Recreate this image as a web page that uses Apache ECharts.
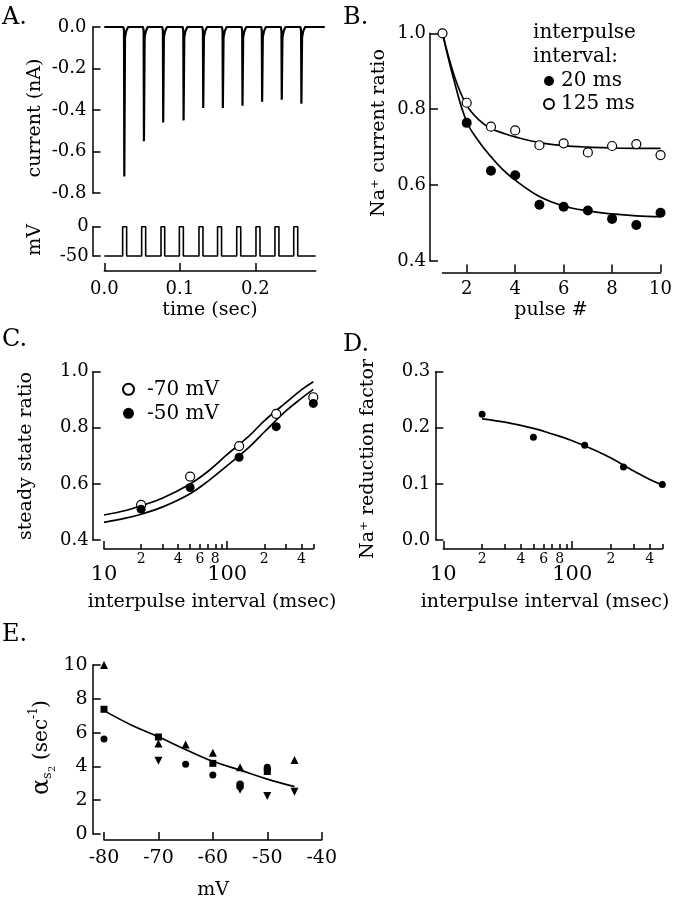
<!DOCTYPE html>
<html><head><meta charset="utf-8">
<script src="https://cdn.jsdelivr.net/npm/echarts@6/dist/echarts.min.js"></script>
<style>html,body{margin:0;padding:0;background:#fff}#c{width:675px;height:900px}</style>
</head><body><div id="c"></div>
<script>
// ---------------- data ----------------
// Panel A: current trace spikes (sec, nA) and voltage pulses (sec)
const aSpikeTimes = [0.0265,0.0525,0.0780,0.1050,0.1310,0.1570,0.1830,0.2090,0.2350,0.2610];
const aSpikePeaks = [-0.72,-0.55,-0.46,-0.45,-0.39,-0.39,-0.38,-0.36,-0.35,-0.37];
const aPulseOn  = [0.0243,0.0495,0.0751,0.0994,0.1254,0.1500,0.1754,0.2009,0.2260,0.2509];
const aPulseOff = [0.0296,0.0548,0.0800,0.1047,0.1307,0.1553,0.1807,0.2062,0.2313,0.2562];
const aHoldMV = -50, aStepMV = 0;
const aTimeEnd = 0.28, aCurrentEnd = 0.292;
const aTimeTicks = [0, 0.1, 0.2];

// Panel B
const bPulse = [1,2,3,4,5,6,7,8,9,10];
const b125 = [1.000,0.817,0.754,0.744,0.705,0.710,0.686,0.703,0.708,0.679];
const b20  = [null,0.764,0.638,0.626,0.548,0.543,0.533,0.511,0.495,0.527];
const bFitX   = [1,1.5,2,2.5,3,3.5,4,5,6,7,8,9,10];
const bFit125 = [1.000,0.885,0.810,0.772,0.749,0.737,0.727,0.712,0.704,0.700,0.698,0.697,0.697];
const bFit20  = [1.000,0.870,0.767,0.715,0.675,0.640,0.613,0.570,0.545,0.532,0.524,0.519,0.517];
const bXTicks = [2,4,6,8,10];

// Panel C
const cInterval = [20,50,125,250,500];
const c70 = [0.525,0.626,0.735,0.850,0.909];
const c50 = [0.510,0.587,0.695,0.804,0.887];
const cFitX  = [10,15,20,30,50,70,100,150,200,300,400,500];
const cFit70 = [0.489,0.505,0.522,0.550,0.600,0.645,0.705,0.770,0.825,0.890,0.935,0.964];
const cFit50 = [0.463,0.478,0.492,0.518,0.565,0.610,0.665,0.730,0.785,0.860,0.905,0.937];

// Panel D
const dInterval = [20,50,125,250,500];
const dFactor = [0.224,0.183,0.169,0.130,0.099];
const dFitX = [20,30,50,70,100,150,200,300,400,500];
const dFit  = [0.216,0.210,0.199,0.189,0.177,0.160,0.146,0.123,0.108,0.098];

// log-axis tick labels (C, D)
const logMajorTicks = [10,100];
const logMajorLabels = ['10','100'];
const logMinorTicks = [20,30,40,50,60,70,80,90,200,300,400,500];
const logMinorLabelTicks = [20,40,60,80,200,400];
const logMinorLabels = ['2','4','6','8','2','4'];

// Panel E
const eTriUp   = [[-80,10.0],[-70,5.36],[-65,5.30],[-60,4.81],[-55,3.95],[-45,4.38]];
const eSquare  = [[-80,7.38],[-70,5.74],[-60,4.18],[-55,2.85],[-50,3.70]];
const eCircle  = [[-80,5.62],[-65,4.12],[-60,3.49],[-55,2.96],[-50,3.95],[-50,3.82]];
const eTriDown = [[-70,4.34],[-55,2.62],[-50,2.25],[-45,2.50]];
const eFitV = [-80,-75,-70,-65,-60,-55,-50,-45];
const eFit  = [7.30,6.45,5.75,5.00,4.30,3.78,3.25,2.80];

// ---------------- build ----------------
const FF = 'DejaVu Serif';
const BLK = '#000';

const curTrace = [[0,0]];
aSpikeTimes.forEach((t,i)=>{
  curTrace.push([t-0.0012,0],[t-0.0004,-0.02],[t,aSpikePeaks[i]],[t+0.0009,-0.05],[t+0.0025,-0.02],[t+0.005,0]);
});
curTrace.push([aCurrentEnd,0]);

const vTrace = [[0,aHoldMV]];
aPulseOn.forEach((t,i)=>{
  vTrace.push([t,aHoldMV],[t,aStepMV],[aPulseOff[i],aStepMV],[aPulseOff[i],aHoldMV]);
});
vTrace.push([aTimeEnd,aHoldMV]);

const pairs = (xs, ys) => xs.map((x,i)=>[x,ys[i]]).filter(p=>p[1]!==null);
const L = Math.log10;
const lookup = (vals, labels) => v => {
  for (let i=0;i<vals.length;i++) if (Math.abs(L(vals[i]) - v) < 1e-6) return labels[i];
  return '';
};

const lineSt = {color:BLK, width:1.5};
function axis(o){
  const base = {
    type:'value',
    axisLine:{show:true, onZero:false, lineStyle:lineSt},
    axisTick:{show:true, inside:true, length:8, lineStyle:lineSt},
    splitLine:{show:false},
    axisLabel:{color:BLK, fontFamily:FF, fontSize:18},
  };
  const r = Object.assign({}, base, o);
  r.axisLine = Object.assign({}, base.axisLine, o.axisLine||{});
  r.axisTick = Object.assign({}, base.axisTick, o.axisTick||{});
  r.axisLabel = Object.assign({}, base.axisLabel, o.axisLabel||{});
  return r;
}
const fix1 = v => v.toFixed(1);

function logAxes(gi, offset){
  return [
    {gridIndex:gi, type:'log', logBase:10, min:10, max:500, show:false},
    axis({gridIndex:gi, min:1, max:L(500), position:'bottom', offset:offset,
      axisTick:{customValues:logMajorTicks.map(L), length:8},
      axisLabel:{customValues:logMajorTicks.map(L), formatter:lookup(logMajorTicks,logMajorLabels), fontSize:21, margin:15}}),
    axis({gridIndex:gi, min:1, max:L(500), position:'bottom', offset:offset,
      axisLine:{show:false},
      axisTick:{customValues:logMinorTicks.map(L), length:5},
      axisLabel:{customValues:logMinorLabelTicks.map(L), formatter:lookup(logMinorLabelTicks,logMinorLabels), fontSize:14, margin:3}})
  ];
}

const xAxes = [
  {gridIndex:0, type:'value', min:0, max:aCurrentEnd, show:false},                          //0
  axis({gridIndex:1, min:0, max:aTimeEnd, position:'bottom', offset:15,
        axisTick:{customValues:aTimeTicks}, axisLabel:{customValues:aTimeTicks, formatter:fix1, margin:9}}), //1
  axis({gridIndex:2, min:1, max:10, position:'bottom', offset:11.4,
        axisTick:{customValues:bXTicks}, axisLabel:{customValues:bXTicks, margin:8}}),       //2
  ...logAxes(3, 9),                                                                          //3,4,5
  ...logAxes(4, 9),                                                                          //6,7,8
  axis({gridIndex:5, min:-80, max:-40, interval:10, position:'bottom', offset:6, axisLabel:{margin:9, fontSize:19}}) //9
];

const yAxes = [
  axis({gridIndex:0, min:-0.8, max:0, interval:0.2, offset:11.8, axisLabel:{formatter:fix1, margin:6}}),
  axis({gridIndex:1, min:-50, max:0, interval:50, offset:11.6, axisLabel:{margin:4}}),
  axis({gridIndex:2, min:0.4, max:1.0, interval:0.2, offset:12.5, axisLabel:{formatter:fix1, margin:4}}),
  axis({gridIndex:3, min:0.4, max:1.0, interval:0.2, offset:11.3, axisLabel:{formatter:fix1, margin:4}}),
  axis({gridIndex:4, min:0, max:0.3, interval:0.1, offset:8, axisLabel:{formatter:fix1, margin:5}}),
  axis({gridIndex:5, min:0, max:10, interval:2, offset:11.3, axisLabel:{margin:5, fontSize:19}})
];

const lineSeries = (name, xi, yi, data, smooth, w) => ({
  name, type:'line', xAxisIndex:xi, yAxisIndex:yi, data, showSymbol:false, symbol:'none',
  smooth: smooth||false, clip:false, lineStyle:{color:BLK, width:w||1.7, opacity:1}, itemStyle:{color:BLK}, z:2, silent:true
});
const openSt = {color:'#fff', borderColor:BLK, borderWidth:1.2, opacity:1};
const fillSt = {color:BLK, borderColor:BLK, borderWidth:0, opacity:1};
const scat = (name, xi, yi, data, symbol, size, st, rot) => ({
  name, type:'scatter', xAxisIndex:xi, yAxisIndex:yi, data, symbol, symbolSize:size,
  symbolRotate: rot||0, itemStyle:st, clip:false, z:5, silent:true
});

const series = [
  lineSeries('current', 0, 0, curTrace, false, 2.2),
  lineSeries('voltage', 1, 1, vTrace, false, 1.6),
  lineSeries('fit125', 2, 2, pairs(bFitX,bFit125), 0.4),
  lineSeries('fit20', 2, 2, pairs(bFitX,bFit20), 0.4),
  scat('20 ms', 2, 2, pairs(bPulse,b20), 'circle', 10, fillSt),
  scat('125 ms', 2, 2, pairs(bPulse,b125), 'circle', 9, openSt),
  lineSeries('fitC70', 3, 3, pairs(cFitX,cFit70), 0.4),
  lineSeries('fitC50', 3, 3, pairs(cFitX,cFit50), 0.4),
  scat('-70 mV', 3, 3, pairs(cInterval,c70), 'circle', 9, openSt),
  scat('-50 mV', 3, 3, pairs(cInterval,c50), 'circle', 9, fillSt),
  lineSeries('fitD', 6, 4, pairs(dFitX,dFit), 0.4),
  scat('D', 6, 4, pairs(dInterval,dFactor), 'circle', 7, fillSt),
  lineSeries('fitE', 9, 5, pairs(eFitV,eFit), 0.4),
  scat('tri', 9, 5, eTriUp, 'triangle', 8, fillSt),
  scat('sq', 9, 5, eSquare, 'rect', 7, fillSt),
  scat('circ', 9, 5, eCircle, 'circle', 7, fillSt),
  scat('tridown', 9, 5, eTriDown, 'triangle', 8, fillSt, 180)
];

function txt(text, x, y, size, opts){
  opts = opts||{};
  return {
    type:'text', x, y, rotation: opts.rot||0, silent:true,
    style:{text, fill:BLK, font: size+'px "'+FF+'"',
      textAlign: opts.align||'center', textVerticalAlign:'middle', align: opts.align||'center', verticalAlign:'middle'}
  };
}
const R = Math.PI/2;
const graphic = [
  txt('A.', 2, 18, 24, {align:'left'}),
  txt('B.', 343, 18, 24, {align:'left'}),
  txt('C.', 2, 340, 24, {align:'left'}),
  txt('D.', 343, 345, 24, {align:'left'}),
  txt('E.', 2, 635, 24, {align:'left'}),
  txt('current (nA)', 35, 118, 19, {rot:R}),
  txt('mV', 35, 240, 19, {rot:R}),
  txt('time (sec)', 210, 310, 19),
  txt('Na\u207A current ratio', 379, 133, 19, {rot:R}),
  txt('pulse #', 551, 310, 19),
  txt('interpulse', 533, 33, 20, {align:'left'}),
  txt('interval:', 533, 57, 20, {align:'left'}),
  txt('steady state ratio', 26, 456, 19, {rot:R}),
  txt('interpulse interval (msec)', 212, 602, 19),
  txt('Na\u207A reduction factor', 368, 459, 19, {rot:R}),
  txt('interpulse interval (msec)', 545, 602, 19),
  txt('mV', 213, 890, 19),
  {type:'group', x:42, y:753, rotation:R, silent:true, children:[
    txt('\u03B1', -42, 0, 24, {align:'left'}),
    txt('s', -26, 6, 13, {align:'left'}),
    txt('2', -19, 10, 10, {align:'left'}),
    txt('(sec', -7, 0, 20, {align:'left'}),
    txt('-1', 34, -8, 12, {align:'left'}),
    txt(')', 45, 0, 20, {align:'left'})
  ]}
];

const legendBase = {orient:'vertical', padding:0, itemGap:0, selectedMode:false};
const option = {
  animation:false,
  backgroundColor:'#fff',
  grid:[
    {left:104.3, top:27, width:220.5, height:166},
    {left:104.3, top:226.7, width:211.4, height:29.3},
    {left:442.5, top:33.3, width:218.5, height:227.7},
    {left:104, top:371.7, width:209.3, height:168.3},
    {left:443.3, top:371.7, width:219, height:168.3},
    {left:104, top:665, width:217.7, height:169}
  ],
  xAxis:xAxes, yAxis:yAxes, series,
  legend:[
    Object.assign({}, legendBase, {data:['20 ms','125 ms'], left:543, top:69.5, itemWidth:10, itemHeight:10,
      textStyle:{fontFamily:FF, fontSize:20, color:BLK, lineHeight:23, padding:[0,0,0,2]}}),
    Object.assign({}, legendBase, {data:['-70 mV','-50 mV'], left:122, top:377.3, itemWidth:11, itemHeight:11,
      textStyle:{fontFamily:FF, fontSize:20, color:BLK, lineHeight:24, padding:[0,0,0,8]}})
  ],
  graphic
};
const chart = echarts.init(document.getElementById('c'), null, {renderer:'canvas'});
chart.setOption(option);
</script></body></html>
